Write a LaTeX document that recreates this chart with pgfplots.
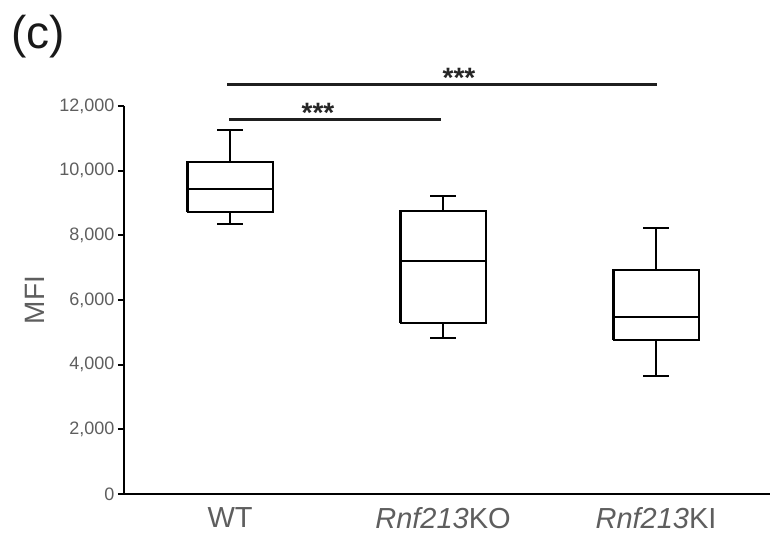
\documentclass[border=0pt]{standalone}
\usepackage{pgfplots}
\pgfplotsset{compat=1.18}
\usepackage{fontspec}
\setmainfont{Liberation Sans}
\definecolor{labgray}{HTML}{5E5E5E}

\begin{document}
\begin{tikzpicture}
\useasboundingbox (-124pt,-42pt) rectangle (646pt,494pt);
\begin{axis}[
  scale only axis, width=646pt, height=388pt,
  at={(0pt,0pt)}, anchor=south west,
  axis lines*=left, axis line style={line width=2.2pt},
  xmin=-0.498, xmax=2.535, ymin=0, ymax=12000,
  xtick={0,1,2},
  xticklabels={WT, \textit{Rnf213}KO, \textit{Rnf213}KI},
  x tick style={draw=none},
  ytick={0,2000,4000,6000,8000,10000,12000},
  y tick style={line width=2.2pt, black},
  tick align=outside, major tick length=6pt,
  /pgf/number format/assume math mode=true,
  /pgf/number format/1000 sep={,},
  scaled y ticks=false,
  yticklabel style={font=\fontsize{18}{20}\selectfont, text=labgray},
  xticklabel style={font=\fontsize{29}{31}\selectfont, text=labgray, yshift=-4pt},
  ylabel={MFI},
  ylabel style={at={(axis description cs:-0.138,0.5)}, anchor=center,
    font=\fontsize{28}{30}\selectfont, text=labgray},
  clip=false,
  bx/.style={black, solid, line width=2.1pt, mark=none},
  sig/.style={draw=black!88, solid, line width=3pt, mark=none},
]
% WT: whiskers 8350/11260, box 8720-10280, median 9440
\addplot[bx] coordinates {(-0.2,8720) (0.2,8720) (0.2,10280) (-0.2,10280) (-0.2,8720)};
\addplot[bx] coordinates {(-0.2,9440) (0.2,9440)};
\addplot[bx] coordinates {(0,10280) (0,11260)};
\addplot[bx] coordinates {(-0.06,11260) (0.06,11260)};
\addplot[bx] coordinates {(0,8720) (0,8350)};
\addplot[bx] coordinates {(-0.06,8350) (0.06,8350)};
% KO: whiskers 4830/9230, box 5300-8760, median 7210
\addplot[bx] coordinates {(0.8,5300) (1.2,5300) (1.2,8760) (0.8,8760) (0.8,5300)};
\addplot[bx] coordinates {(0.8,7210) (1.2,7210)};
\addplot[bx] coordinates {(1,8760) (1,9230)};
\addplot[bx] coordinates {(0.94,9230) (1.06,9230)};
\addplot[bx] coordinates {(1,5300) (1,4830)};
\addplot[bx] coordinates {(0.94,4830) (1.06,4830)};
% KI: whiskers 3650/8240, box 4760-6930, median 5480
\addplot[bx] coordinates {(1.8,4760) (2.2,4760) (2.2,6930) (1.8,6930) (1.8,4760)};
\addplot[bx] coordinates {(1.8,5480) (2.2,5480)};
\addplot[bx] coordinates {(2,6930) (2,8240)};
\addplot[bx] coordinates {(1.94,8240) (2.06,8240)};
\addplot[bx] coordinates {(2,4760) (2,3650)};
\addplot[bx] coordinates {(1.94,3650) (2.06,3650)};
% significance bars
\addplot[sig] coordinates {(-0.014,12650) (2.005,12650)};
\addplot[sig] coordinates {(-0.005,11570) (0.99,11570)};
\node[text=black!85, font=\bfseries\fontsize{28}{30}\selectfont] at (axis cs:1.075,12880) {***};
\node[text=black!85, font=\bfseries\fontsize{28}{30}\selectfont] at (axis cs:0.413,11800) {***};
\end{axis}
\node[font=\fontsize{46}{48}\selectfont, text=black!90] at (-86pt,457pt) {(c)};
\end{tikzpicture}
\end{document}
